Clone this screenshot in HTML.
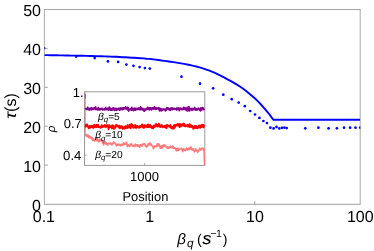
<!DOCTYPE html>
<html><head><meta charset="utf-8"><title>chart</title>
<style>html,body{margin:0;padding:0;background:#fff;width:374px;height:251px;overflow:hidden;font-family:"Liberation Sans",sans-serif}</style>
</head><body>
<svg width="374" height="251" viewBox="0 0 374 251" style="position:absolute;left:0;top:0;text-rendering:geometricPrecision;will-change:transform">
<rect x="0" y="0" width="374" height="251" fill="#fff"/>
<path d="M44,9.55 H360.6" stroke="#8a8a8a" stroke-width="0.8" fill="none"/>
<path d="M44,204.3 H360.6" stroke="#808080" stroke-width="0.75" fill="none"/>
<path d="M44.4,9.5 V204.3" stroke="#909090" stroke-width="0.75" fill="none"/>
<path d="M360.2,9.5 V204.3" stroke="#999" stroke-width="0.85" fill="none"/>
<path d="M44.4,165.1 h3.4 M44.4,126.2 h3.4 M44.4,87.3 h3.4 M44.4,48.4 h3.4 M149.6,204.2 v-3.0 M254.8,204.2 v-3.0" stroke="#8a8a8a" stroke-width="0.8" fill="none"/>
<path d="M44.5,55.1 L47.5,55.1 L50.5,55.2 L53.5,55.3 L56.5,55.3 L59.5,55.4 L62.5,55.4 L65.5,55.5 L68.5,55.5 L71.5,55.6 L74.5,55.6 L77.5,55.7 L80.5,55.8 L83.5,55.8 L86.5,55.9 L89.5,56.0 L92.5,56.0 L95.5,56.1 L98.5,56.2 L101.5,56.3 L104.5,56.4 L107.5,56.5 L110.5,56.6 L113.5,56.7 L116.5,56.8 L119.5,57.0 L122.5,57.2 L125.5,57.3 L128.5,57.5 L131.5,57.7 L134.5,57.8 L137.5,58.0 L140.5,58.2 L143.5,58.4 L146.5,58.7 L149.5,58.9 L152.5,59.3 L155.5,59.6 L158.5,60.0 L161.5,60.5 L164.5,60.9 L167.5,61.3 L170.5,61.7 L173.5,62.1 L176.5,62.6 L179.5,63.1 L182.5,63.6 L185.5,64.1 L188.5,64.7 L191.5,65.4 L194.5,66.1 L197.5,66.8 L200.5,67.6 L203.5,68.6 L206.5,69.6 L209.5,70.7 L212.5,71.9 L215.5,73.2 L218.5,74.7 L221.5,76.2 L224.5,77.7 L227.5,79.3 L230.5,80.9 L233.5,82.6 L236.5,84.4 L239.5,86.3 L242.5,88.3 L245.5,90.5 L248.5,92.9 L251.5,95.4 L254.5,98.0 L257.5,100.9 L260.5,104.0 L263.5,107.3 L266.5,110.8 L269.5,114.5 L272.5,118.6 L273.3,119.8 L360.0,119.8" stroke="#0000ff" stroke-width="1.9" fill="none" stroke-linejoin="round"/>
<clipPath id="cp"><rect x="44.9" y="9.5" width="315.4" height="194.5"/></clipPath><g clip-path="url(#cp)">
<circle cx="76.2" cy="56.6" r="1.35" fill="#0000ff"/>
<circle cx="94.7" cy="58.1" r="1.35" fill="#0000ff"/>
<circle cx="107.9" cy="61.4" r="1.35" fill="#0000ff"/>
<circle cx="118.1" cy="61.9" r="1.35" fill="#0000ff"/>
<circle cx="126.4" cy="64.6" r="1.35" fill="#0000ff"/>
<circle cx="133.5" cy="65.8" r="1.35" fill="#0000ff"/>
<circle cx="139.6" cy="67.1" r="1.35" fill="#0000ff"/>
<circle cx="144.9" cy="68.1" r="1.35" fill="#0000ff"/>
<circle cx="149.8" cy="68.6" r="1.35" fill="#0000ff"/>
<circle cx="181.5" cy="76.7" r="1.35" fill="#0000ff"/>
<circle cx="200.0" cy="83.7" r="1.35" fill="#0000ff"/>
<circle cx="213.1" cy="88.3" r="1.35" fill="#0000ff"/>
<circle cx="223.3" cy="94.7" r="1.35" fill="#0000ff"/>
<circle cx="231.7" cy="99.2" r="1.35" fill="#0000ff"/>
<circle cx="238.7" cy="102.6" r="1.35" fill="#0000ff"/>
<circle cx="244.8" cy="106.2" r="1.35" fill="#0000ff"/>
<circle cx="250.2" cy="111.0" r="1.35" fill="#0000ff"/>
<circle cx="255.0" cy="114.5" r="1.35" fill="#0000ff"/>
<circle cx="259.4" cy="117.9" r="1.35" fill="#0000ff"/>
<circle cx="263.4" cy="121.0" r="1.35" fill="#0000ff"/>
<circle cx="267.0" cy="123.1" r="1.35" fill="#0000ff"/>
<circle cx="270.4" cy="127.7" r="1.35" fill="#0000ff"/>
<circle cx="273.6" cy="128.4" r="1.35" fill="#0000ff"/>
<circle cx="276.5" cy="126.9" r="1.35" fill="#0000ff"/>
<circle cx="279.3" cy="128.4" r="1.35" fill="#0000ff"/>
<circle cx="281.9" cy="127.9" r="1.35" fill="#0000ff"/>
<circle cx="284.4" cy="127.6" r="1.35" fill="#0000ff"/>
<circle cx="286.7" cy="128.1" r="1.35" fill="#0000ff"/>
<circle cx="305.3" cy="128.3" r="1.35" fill="#0000ff"/>
<circle cx="318.4" cy="127.7" r="1.35" fill="#0000ff"/>
<circle cx="328.6" cy="128.3" r="1.35" fill="#0000ff"/>
<circle cx="336.9" cy="128.3" r="1.35" fill="#0000ff"/>
<circle cx="344.0" cy="127.7" r="1.35" fill="#0000ff"/>
<circle cx="350.1" cy="127.7" r="1.35" fill="#0000ff"/>
<circle cx="355.5" cy="127.7" r="1.35" fill="#0000ff"/>
<circle cx="360.3" cy="127.7" r="1.35" fill="#0000ff"/>
</g>
<rect x="44.0" y="46.9" width="1.3" height="2.3" rx="0.5" fill="#2222dd" opacity="0.85"/>
<rect x="84.5" y="91.8" width="120.3" height="73.6" fill="#fff" stroke="#999" stroke-width="1"/>
<path d="M144.6,165.4 v-2.2 M84.5,124.2 h2 M84.5,155.3 h2" stroke="#999" stroke-width="0.9" fill="none"/>
<path d="M85.3,92.3 L85.3,136" stroke="#ff8592" stroke-width="1.0" fill="none"/>
<path d="M85.3,94.3 L85.3,98.4" stroke="#8a40d0" stroke-width="1.0" fill="none"/>
<path d="M85.6,135.5 L85.9,134.6 L86.2,136.0 L86.4,134.5 L86.7,136.4 L87.0,135.9 L87.3,134.9 L87.6,135.4 L87.9,136.5 L88.1,135.3 L88.4,137.7 L88.7,136.8 L89.0,135.5 L89.3,136.4 L89.5,136.3 L89.8,136.9 L90.1,138.0 L90.4,137.4 L90.7,136.8 L90.9,136.9 L91.2,137.6 L91.5,138.9 L91.8,138.2 L92.1,137.7 L92.4,138.0 L92.6,140.4 L92.9,139.8 L93.2,139.5 L93.5,139.1 L93.8,140.3 L94.0,139.7 L94.3,141.0 L94.6,141.1 L94.9,140.9 L95.2,139.0 L95.4,138.4 L95.7,138.4 L96.0,137.9 L96.3,140.7 L96.6,140.5 L96.9,137.7 L97.1,138.2 L97.4,138.8 L97.7,140.5 L98.0,141.0 L98.3,141.4 L98.5,141.2 L98.8,141.7 L99.1,141.0 L99.4,139.3 L99.7,141.2 L100.0,139.7 L100.2,140.4 L100.5,139.4 L100.8,140.9 L101.1,141.0 L101.4,140.4 L101.6,140.8 L101.9,140.5 L102.2,140.2 L102.5,142.4 L102.8,143.7 L103.0,142.1 L103.3,143.7 L103.6,144.9 L103.9,143.6 L104.2,143.5 L104.5,142.8 L104.7,142.7 L105.0,143.0 L105.3,141.7 L105.6,144.1 L105.9,143.5 L106.1,143.5 L106.4,142.8 L106.7,144.0 L107.0,143.9 L107.3,145.0 L107.6,145.3 L107.8,143.9 L108.1,143.6 L108.4,143.7 L108.7,143.3 L109.0,143.4 L109.2,144.0 L109.5,143.6 L109.8,143.0 L110.1,143.5 L110.4,143.1 L110.6,143.5 L110.9,143.2 L111.2,144.5 L111.5,143.9 L111.8,143.6 L112.1,145.0 L112.3,143.4 L112.6,144.1 L112.9,142.9 L113.2,143.6 L113.5,141.9 L113.7,142.2 L114.0,143.3 L114.3,142.5 L114.6,142.9 L114.9,142.9 L115.2,143.1 L115.4,144.0 L115.7,144.2 L116.0,144.4 L116.3,146.1 L116.6,144.9 L116.8,144.6 L117.1,144.8 L117.4,144.2 L117.7,145.3 L118.0,144.0 L118.2,145.3 L118.5,144.3 L118.8,145.3 L119.1,145.3 L119.4,144.4 L119.7,144.3 L119.9,144.7 L120.2,145.0 L120.5,145.8 L120.8,145.0 L121.1,144.3 L121.3,145.6 L121.6,144.3 L121.9,144.2 L122.2,144.5 L122.5,145.4 L122.7,144.5 L123.0,144.7 L123.3,144.3 L123.6,142.5 L123.9,144.5 L124.2,143.6 L124.4,143.5 L124.7,144.6 L125.0,144.1 L125.3,144.4 L125.6,143.3 L125.8,144.5 L126.1,143.2 L126.4,142.0 L126.7,142.9 L127.0,145.1 L127.3,145.9 L127.5,146.7 L127.8,145.1 L128.1,145.1 L128.4,144.8 L128.7,144.9 L128.9,145.8 L129.2,146.3 L129.5,145.7 L129.8,146.6 L130.1,145.8 L130.3,145.4 L130.6,144.0 L130.9,143.8 L131.2,143.6 L131.5,144.2 L131.8,145.0 L132.0,145.6 L132.3,145.6 L132.6,146.3 L132.9,145.2 L133.2,145.7 L133.4,145.9 L133.7,145.7 L134.0,146.4 L134.3,145.7 L134.6,145.0 L134.8,146.6 L135.1,145.2 L135.4,144.1 L135.7,145.0 L136.0,145.6 L136.3,144.9 L136.5,145.2 L136.8,145.2 L137.1,144.7 L137.4,146.4 L137.7,145.5 L137.9,145.0 L138.2,145.0 L138.5,146.3 L138.8,145.5 L139.1,145.9 L139.4,146.4 L139.6,147.3 L139.9,146.9 L140.2,144.5 L140.5,145.0 L140.8,144.7 L141.0,145.1 L141.3,145.1 L141.6,146.2 L141.9,146.3 L142.2,145.6 L142.4,144.8 L142.7,144.1 L143.0,143.8 L143.3,144.3 L143.6,144.5 L143.9,144.0 L144.1,144.6 L144.4,144.4 L144.7,143.6 L145.0,144.3 L145.3,145.3 L145.5,146.2 L145.8,145.3 L146.1,145.8 L146.4,145.9 L146.7,147.1 L147.0,146.5 L147.2,146.2 L147.5,145.3 L147.8,146.2 L148.1,144.0 L148.4,144.0 L148.6,143.7 L148.9,144.7 L149.2,144.8 L149.5,143.1 L149.8,145.0 L150.0,144.8 L150.3,143.0 L150.6,144.6 L150.9,144.6 L151.2,145.2 L151.5,144.2 L151.7,145.5 L152.0,146.3 L152.3,146.2 L152.6,146.5 L152.9,146.3 L153.1,147.9 L153.4,148.8 L153.7,147.4 L154.0,147.9 L154.3,146.3 L154.6,147.3 L154.8,145.7 L155.1,145.7 L155.4,146.0 L155.7,146.0 L156.0,145.9 L156.2,146.2 L156.5,145.9 L156.8,146.8 L157.1,143.7 L157.4,143.7 L157.6,145.0 L157.9,144.9 L158.2,146.0 L158.5,144.8 L158.8,143.7 L159.1,145.0 L159.3,144.9 L159.6,145.1 L159.9,146.5 L160.2,148.2 L160.5,146.7 L160.7,146.6 L161.0,148.3 L161.3,145.7 L161.6,146.1 L161.9,146.3 L162.1,146.9 L162.4,148.1 L162.7,146.8 L163.0,145.1 L163.3,144.8 L163.6,145.8 L163.8,145.1 L164.1,146.5 L164.4,144.8 L164.7,145.5 L165.0,145.6 L165.2,146.1 L165.5,146.0 L165.8,145.7 L166.1,146.0 L166.4,147.8 L166.7,147.3 L166.9,147.7 L167.2,147.5 L167.5,146.7 L167.8,148.6 L168.1,148.5 L168.3,148.1 L168.6,147.6 L168.9,147.1 L169.2,147.7 L169.5,147.1 L169.7,148.1 L170.0,146.5 L170.3,146.5 L170.6,146.1 L170.9,147.0 L171.2,147.6 L171.4,146.8 L171.7,147.2 L172.0,146.7 L172.3,147.9 L172.6,147.0 L172.8,146.0 L173.1,146.5 L173.4,148.2 L173.7,147.7 L174.0,148.2 L174.2,147.9 L174.5,147.7 L174.8,147.8 L175.1,148.9 L175.4,148.7 L175.7,148.5 L175.9,149.1 L176.2,150.4 L176.5,150.9 L176.8,149.6 L177.1,149.5 L177.3,148.4 L177.6,148.7 L177.9,148.5 L178.2,150.6 L178.5,148.6 L178.8,149.6 L179.0,150.0 L179.3,149.8 L179.6,149.8 L179.9,149.0 L180.2,149.0 L180.4,148.9 L180.7,148.8 L181.0,148.5 L181.3,148.1 L181.6,149.1 L181.8,148.8 L182.1,149.9 L182.4,151.1 L182.7,151.8 L183.0,150.0 L183.3,149.3 L183.5,148.5 L183.8,149.7 L184.1,149.8 L184.4,150.3 L184.7,149.2 L184.9,149.2 L185.2,150.7 L185.5,149.8 L185.8,149.6 L186.1,149.4 L186.4,148.1 L186.6,149.8 L186.9,149.8 L187.2,149.2 L187.5,150.0 L187.8,149.5 L188.0,149.4 L188.3,148.0 L188.6,149.4 L188.9,148.2 L189.2,148.7 L189.4,149.7 L189.7,149.7 L190.0,149.5 L190.3,147.3 L190.6,149.0 L190.9,147.4 L191.1,147.0 L191.4,149.0 L191.7,148.8 L192.0,149.2 L192.3,150.2 L192.5,149.1 L192.8,149.3 L193.1,148.8 L193.4,148.8 L193.7,149.8 L193.9,151.1 L194.2,151.1 L194.5,151.9 L194.8,150.9 L195.1,150.4 L195.4,150.6 L195.6,148.7 L195.9,149.0 L196.2,149.7 L196.5,150.6 L196.8,150.1 L197.0,151.5 L197.3,150.2 L197.6,152.4 L197.9,150.8 L198.2,151.5 L198.5,150.7 L198.7,150.9 L199.0,150.2 L199.3,149.6 L199.6,148.3 L199.9,148.3 L200.1,149.6 L200.4,149.6 L200.7,150.2 L201.0,149.4 L201.3,149.1 L201.5,148.4 L201.8,148.3 L202.1,148.2 L202.4,148.2 L202.7,148.1 L203.0,148.7 L203.2,150.0 L203.5,148.5 L203.8,148.9 L204.1,152.0 L204.3,158.0 L204.5,165.0" stroke="#ff7a7a" stroke-width="1.5" fill="none" stroke-linejoin="round"/>
<path d="M85.4,125.8 L85.7,126.8 L86.0,125.3 L86.2,124.6 L86.5,125.8 L86.8,125.6 L87.1,124.5 L87.4,126.4 L87.7,126.7 L87.9,126.6 L88.2,126.7 L88.5,126.5 L88.8,128.3 L89.1,126.9 L89.4,126.0 L89.6,127.3 L89.9,127.1 L90.2,127.7 L90.5,126.1 L90.8,126.8 L91.1,126.2 L91.3,127.0 L91.6,125.7 L91.9,126.9 L92.2,127.0 L92.5,126.1 L92.8,127.6 L93.0,126.7 L93.3,127.9 L93.6,127.0 L93.9,126.5 L94.2,124.8 L94.5,126.9 L94.7,126.0 L95.0,127.2 L95.3,127.2 L95.6,126.9 L95.9,126.1 L96.1,126.5 L96.4,124.8 L96.7,127.0 L97.0,126.9 L97.3,126.9 L97.6,125.6 L97.8,126.7 L98.1,124.7 L98.4,127.0 L98.7,126.6 L99.0,127.2 L99.3,127.0 L99.5,127.0 L99.8,127.1 L100.1,126.9 L100.4,127.7 L100.7,126.5 L101.0,127.7 L101.2,126.5 L101.5,127.2 L101.8,125.1 L102.1,127.3 L102.4,126.8 L102.7,126.7 L102.9,126.1 L103.2,126.0 L103.5,126.7 L103.8,126.4 L104.1,125.9 L104.4,126.4 L104.6,126.1 L104.9,124.9 L105.2,126.3 L105.5,126.1 L105.8,127.0 L106.0,127.2 L106.3,126.6 L106.6,126.3 L106.9,125.2 L107.2,126.4 L107.5,126.2 L107.7,126.3 L108.0,125.2 L108.3,125.6 L108.6,129.2 L108.9,126.5 L109.2,126.4 L109.4,125.1 L109.7,127.3 L110.0,126.6 L110.3,126.8 L110.6,126.8 L110.9,126.4 L111.1,127.1 L111.4,126.3 L111.7,126.7 L112.0,128.5 L112.3,125.2 L112.6,128.1 L112.8,127.8 L113.1,126.4 L113.4,126.5 L113.7,125.8 L114.0,128.8 L114.3,126.5 L114.5,126.5 L114.8,127.4 L115.1,128.0 L115.4,126.9 L115.7,126.5 L115.9,126.3 L116.2,124.6 L116.5,125.4 L116.8,126.1 L117.1,126.4 L117.4,125.6 L117.6,125.5 L117.9,126.3 L118.2,125.9 L118.5,126.4 L118.8,127.1 L119.1,127.7 L119.3,126.3 L119.6,125.7 L119.9,128.2 L120.2,127.3 L120.5,127.8 L120.8,126.5 L121.0,127.5 L121.3,127.6 L121.6,126.9 L121.9,126.2 L122.2,126.8 L122.5,128.8 L122.7,127.7 L123.0,127.5 L123.3,128.0 L123.6,127.9 L123.9,127.6 L124.2,128.7 L124.4,127.1 L124.7,126.7 L125.0,127.6 L125.3,128.0 L125.6,126.3 L125.8,128.0 L126.1,126.9 L126.4,126.7 L126.7,127.8 L127.0,127.5 L127.3,128.0 L127.5,125.3 L127.8,126.1 L128.1,126.0 L128.4,125.6 L128.7,127.5 L129.0,126.5 L129.2,126.6 L129.5,127.2 L129.8,124.8 L130.1,125.9 L130.4,126.3 L130.7,128.4 L130.9,125.6 L131.2,124.2 L131.5,125.8 L131.8,124.1 L132.1,125.7 L132.4,124.9 L132.6,126.5 L132.9,127.0 L133.2,126.4 L133.5,127.9 L133.8,127.0 L134.1,126.8 L134.3,125.6 L134.6,125.2 L134.9,127.2 L135.2,127.4 L135.5,125.2 L135.7,127.8 L136.0,126.7 L136.3,127.9 L136.6,127.6 L136.9,126.5 L137.2,126.0 L137.4,126.4 L137.7,127.1 L138.0,126.3 L138.3,127.3 L138.6,126.9 L138.9,127.8 L139.1,126.9 L139.4,126.5 L139.7,126.1 L140.0,127.3 L140.3,127.0 L140.6,127.2 L140.8,125.9 L141.1,125.9 L141.4,125.9 L141.7,126.5 L142.0,124.4 L142.3,126.8 L142.5,126.3 L142.8,127.2 L143.1,127.2 L143.4,127.8 L143.7,126.5 L144.0,125.1 L144.2,127.0 L144.5,127.4 L144.8,125.3 L145.1,125.8 L145.4,126.4 L145.6,125.9 L145.9,126.1 L146.2,126.8 L146.5,126.0 L146.8,127.1 L147.1,126.9 L147.3,125.4 L147.6,124.6 L147.9,126.2 L148.2,127.2 L148.5,124.7 L148.8,126.7 L149.0,125.1 L149.3,126.9 L149.6,126.1 L149.9,127.1 L150.2,124.9 L150.5,126.7 L150.7,127.0 L151.0,126.1 L151.3,126.5 L151.6,126.3 L151.9,128.2 L152.2,127.6 L152.4,127.4 L152.7,126.5 L153.0,128.3 L153.3,127.6 L153.6,127.1 L153.9,127.2 L154.1,125.4 L154.4,125.4 L154.7,127.1 L155.0,126.5 L155.3,125.7 L155.5,125.1 L155.8,125.8 L156.1,124.0 L156.4,124.5 L156.7,125.1 L157.0,125.2 L157.2,126.6 L157.5,126.4 L157.8,124.9 L158.1,125.5 L158.4,126.0 L158.7,125.0 L158.9,123.7 L159.2,126.6 L159.5,124.9 L159.8,125.1 L160.1,125.7 L160.4,126.9 L160.6,125.9 L160.9,127.1 L161.2,125.6 L161.5,125.5 L161.8,125.0 L162.1,126.2 L162.3,126.5 L162.6,125.9 L162.9,127.4 L163.2,126.1 L163.5,126.6 L163.8,126.2 L164.0,126.3 L164.3,126.1 L164.6,127.0 L164.9,125.8 L165.2,127.6 L165.4,126.4 L165.7,127.4 L166.0,125.5 L166.3,126.2 L166.6,128.1 L166.9,126.8 L167.1,124.9 L167.4,126.0 L167.7,125.6 L168.0,125.3 L168.3,125.6 L168.6,126.3 L168.8,126.0 L169.1,126.3 L169.4,126.8 L169.7,126.9 L170.0,126.2 L170.3,125.0 L170.5,125.6 L170.8,127.2 L171.1,126.3 L171.4,128.4 L171.7,127.0 L172.0,127.8 L172.2,126.8 L172.5,127.5 L172.8,128.4 L173.1,127.2 L173.4,126.4 L173.7,128.7 L173.9,125.9 L174.2,125.0 L174.5,125.1 L174.8,127.6 L175.1,125.8 L175.3,126.0 L175.6,125.1 L175.9,125.9 L176.2,125.5 L176.5,125.5 L176.8,125.2 L177.0,124.4 L177.3,125.6 L177.6,125.4 L177.9,123.9 L178.2,125.6 L178.5,125.3 L178.7,124.4 L179.0,125.9 L179.3,123.9 L179.6,127.1 L179.9,125.0 L180.2,125.2 L180.4,124.3 L180.7,126.4 L181.0,125.7 L181.3,124.6 L181.6,125.8 L181.9,125.4 L182.1,124.7 L182.4,124.9 L182.7,125.4 L183.0,124.6 L183.3,123.6 L183.6,125.4 L183.8,125.8 L184.1,123.8 L184.4,125.8 L184.7,125.3 L185.0,126.4 L185.2,126.4 L185.5,126.3 L185.8,125.3 L186.1,126.2 L186.4,125.7 L186.7,125.3 L186.9,125.7 L187.2,125.3 L187.5,125.8 L187.8,126.4 L188.1,124.7 L188.4,125.6 L188.6,125.3 L188.9,126.0 L189.2,126.9 L189.5,126.8 L189.8,124.3 L190.1,126.5 L190.3,126.5 L190.6,125.6 L190.9,126.4 L191.2,127.1 L191.5,125.4 L191.8,126.6 L192.0,126.8 L192.3,126.0 L192.6,126.6 L192.9,127.0 L193.2,128.8 L193.5,128.6 L193.7,127.8 L194.0,126.9 L194.3,126.8 L194.6,128.1 L194.9,126.0 L195.1,127.0 L195.4,126.0 L195.7,126.6 L196.0,128.1 L196.3,126.1 L196.6,126.8 L196.8,126.5 L197.1,127.7 L197.4,128.2 L197.7,126.8 L198.0,127.2 L198.3,126.5 L198.5,127.6 L198.8,127.1 L199.1,125.5 L199.4,126.7 L199.7,126.0 L200.0,126.0 L200.2,127.8 L200.5,125.5 L200.8,127.5 L201.1,127.0 L201.4,126.5 L201.7,127.0 L201.9,126.9 L202.2,124.7 L202.5,125.3 L202.8,126.3 L203.1,126.5 L203.4,124.9 L203.6,127.4 L203.9,125.8 L204.2,126.6" stroke="#ff0000" stroke-width="1.9" fill="none" stroke-linejoin="round"/>
<path d="M85.4,109.3 L85.7,108.7 L86.0,108.6 L86.2,109.2 L86.5,109.2 L86.8,109.2 L87.1,109.5 L87.4,109.3 L87.7,107.5 L87.9,108.3 L88.2,108.7 L88.5,108.4 L88.8,109.2 L89.1,110.0 L89.4,109.7 L89.6,108.3 L89.9,108.7 L90.2,109.1 L90.5,108.2 L90.8,109.7 L91.1,108.9 L91.3,107.8 L91.6,109.8 L91.9,108.4 L92.2,108.1 L92.5,108.7 L92.8,109.2 L93.0,109.4 L93.3,109.2 L93.6,108.1 L93.9,108.6 L94.2,108.1 L94.5,108.5 L94.7,107.6 L95.0,109.0 L95.3,109.4 L95.6,107.0 L95.9,108.3 L96.1,109.4 L96.4,109.0 L96.7,109.2 L97.0,109.6 L97.3,109.5 L97.6,109.8 L97.8,109.4 L98.1,108.4 L98.4,107.7 L98.7,109.6 L99.0,109.9 L99.3,108.7 L99.5,109.4 L99.8,109.7 L100.1,108.6 L100.4,109.0 L100.7,109.5 L101.0,108.8 L101.2,108.8 L101.5,108.7 L101.8,108.3 L102.1,108.3 L102.4,109.5 L102.7,109.8 L102.9,109.3 L103.2,109.6 L103.5,109.3 L103.8,109.2 L104.1,109.6 L104.4,109.6 L104.6,109.0 L104.9,109.9 L105.2,109.4 L105.5,107.6 L105.8,109.3 L106.0,109.3 L106.3,109.5 L106.6,108.7 L106.9,109.6 L107.2,109.2 L107.5,109.1 L107.7,108.5 L108.0,108.1 L108.3,109.6 L108.6,110.1 L108.9,108.6 L109.2,109.2 L109.4,107.1 L109.7,108.1 L110.0,108.1 L110.3,110.0 L110.6,109.2 L110.9,109.3 L111.1,110.2 L111.4,109.0 L111.7,108.7 L112.0,109.4 L112.3,110.0 L112.6,109.9 L112.8,108.1 L113.1,108.5 L113.4,108.0 L113.7,109.7 L114.0,108.7 L114.3,108.5 L114.5,110.4 L114.8,110.2 L115.1,109.1 L115.4,109.9 L115.7,108.5 L115.9,109.3 L116.2,108.5 L116.5,110.3 L116.8,109.3 L117.1,110.0 L117.4,109.3 L117.6,109.2 L117.9,108.7 L118.2,109.4 L118.5,108.4 L118.8,109.4 L119.1,109.8 L119.3,109.6 L119.6,110.2 L119.9,109.6 L120.2,108.0 L120.5,109.3 L120.8,108.4 L121.0,108.5 L121.3,108.7 L121.6,108.8 L121.9,109.6 L122.2,108.0 L122.5,109.6 L122.7,108.2 L123.0,109.4 L123.3,109.4 L123.6,108.0 L123.9,108.2 L124.2,108.4 L124.4,108.2 L124.7,108.5 L125.0,108.8 L125.3,108.5 L125.6,107.0 L125.8,108.3 L126.1,107.7 L126.4,108.1 L126.7,109.1 L127.0,109.0 L127.3,109.4 L127.5,107.5 L127.8,110.0 L128.1,108.7 L128.4,108.0 L128.7,111.0 L129.0,109.6 L129.2,109.2 L129.5,110.0 L129.8,109.1 L130.1,109.7 L130.4,109.0 L130.7,108.7 L130.9,109.2 L131.2,108.4 L131.5,110.1 L131.8,107.5 L132.1,109.7 L132.4,109.8 L132.6,109.8 L132.9,109.8 L133.2,108.6 L133.5,110.5 L133.8,108.6 L134.1,109.2 L134.3,108.3 L134.6,110.0 L134.9,108.1 L135.2,109.9 L135.5,110.0 L135.7,109.4 L136.0,108.4 L136.3,109.3 L136.6,108.8 L136.9,109.2 L137.2,109.1 L137.4,109.5 L137.7,108.4 L138.0,108.9 L138.3,109.0 L138.6,109.0 L138.9,108.0 L139.1,109.7 L139.4,108.9 L139.7,108.4 L140.0,108.8 L140.3,109.2 L140.6,106.8 L140.8,109.6 L141.1,107.6 L141.4,108.9 L141.7,108.8 L142.0,109.4 L142.3,109.3 L142.5,109.8 L142.8,108.4 L143.1,109.6 L143.4,109.8 L143.7,109.8 L144.0,110.9 L144.2,109.1 L144.5,111.0 L144.8,109.7 L145.1,109.2 L145.4,109.2 L145.6,109.8 L145.9,109.1 L146.2,109.6 L146.5,109.2 L146.8,109.6 L147.1,108.5 L147.3,107.9 L147.6,107.5 L147.9,109.2 L148.2,108.9 L148.5,107.9 L148.8,109.5 L149.0,108.6 L149.3,107.9 L149.6,109.9 L149.9,108.9 L150.2,107.8 L150.5,108.1 L150.7,107.8 L151.0,109.0 L151.3,109.4 L151.6,109.9 L151.9,108.5 L152.2,108.0 L152.4,108.8 L152.7,107.8 L153.0,108.7 L153.3,108.5 L153.6,108.2 L153.9,109.1 L154.1,108.4 L154.4,107.0 L154.7,108.8 L155.0,108.8 L155.3,107.7 L155.5,108.5 L155.8,109.2 L156.1,108.2 L156.4,108.8 L156.7,109.1 L157.0,107.9 L157.2,108.3 L157.5,108.6 L157.8,108.7 L158.1,108.5 L158.4,108.9 L158.7,109.3 L158.9,107.6 L159.2,109.3 L159.5,110.8 L159.8,110.1 L160.1,109.9 L160.4,109.2 L160.6,108.5 L160.9,108.7 L161.2,110.8 L161.5,109.3 L161.8,109.4 L162.1,109.4 L162.3,109.7 L162.6,110.3 L162.9,109.3 L163.2,109.0 L163.5,108.9 L163.8,109.1 L164.0,109.7 L164.3,109.4 L164.6,109.8 L164.9,109.4 L165.2,110.1 L165.4,110.8 L165.7,109.7 L166.0,109.0 L166.3,110.1 L166.6,108.2 L166.9,107.7 L167.1,108.7 L167.4,108.8 L167.7,108.2 L168.0,107.9 L168.3,109.2 L168.6,108.8 L168.8,109.0 L169.1,109.9 L169.4,108.9 L169.7,108.4 L170.0,108.5 L170.3,109.2 L170.5,110.4 L170.8,108.9 L171.1,107.9 L171.4,109.2 L171.7,109.4 L172.0,109.3 L172.2,109.6 L172.5,108.2 L172.8,108.1 L173.1,109.2 L173.4,109.1 L173.7,109.0 L173.9,108.8 L174.2,108.7 L174.5,108.4 L174.8,109.3 L175.1,109.2 L175.3,108.6 L175.6,108.9 L175.9,109.4 L176.2,108.8 L176.5,109.2 L176.8,110.0 L177.0,107.8 L177.3,109.0 L177.6,109.4 L177.9,108.8 L178.2,108.7 L178.5,108.0 L178.7,109.1 L179.0,109.3 L179.3,110.6 L179.6,108.5 L179.9,109.4 L180.2,108.1 L180.4,109.1 L180.7,108.7 L181.0,109.1 L181.3,108.7 L181.6,109.5 L181.9,108.7 L182.1,108.5 L182.4,109.6 L182.7,108.9 L183.0,109.3 L183.3,109.0 L183.6,109.1 L183.8,107.4 L184.1,109.0 L184.4,109.4 L184.7,108.3 L185.0,107.7 L185.2,108.8 L185.5,108.8 L185.8,108.5 L186.1,110.1 L186.4,110.5 L186.7,108.8 L186.9,109.6 L187.2,107.3 L187.5,109.4 L187.8,110.8 L188.1,109.1 L188.4,109.3 L188.6,108.4 L188.9,106.7 L189.2,109.0 L189.5,110.8 L189.8,109.1 L190.1,108.6 L190.3,109.5 L190.6,109.1 L190.9,109.6 L191.2,108.9 L191.5,109.0 L191.8,110.0 L192.0,108.3 L192.3,109.4 L192.6,110.0 L192.9,109.6 L193.2,108.9 L193.5,109.5 L193.7,108.6 L194.0,108.9 L194.3,108.7 L194.6,107.5 L194.9,109.4 L195.1,108.8 L195.4,110.2 L195.7,109.5 L196.0,109.2 L196.3,108.8 L196.6,109.2 L196.8,110.0 L197.1,109.0 L197.4,109.7 L197.7,109.5 L198.0,109.0 L198.3,108.1 L198.5,108.2 L198.8,108.7 L199.1,109.7 L199.4,108.8 L199.7,110.2 L200.0,109.3 L200.2,109.4 L200.5,110.8 L200.8,107.9 L201.1,109.5 L201.4,109.8 L201.7,108.5 L201.9,109.9 L202.2,108.3 L202.5,107.6 L202.8,108.7 L203.1,108.5 L203.4,108.6 L203.6,108.4 L203.9,109.4 L204.2,110.3" stroke="#85008f" stroke-width="1.8" fill="none" stroke-linejoin="round"/>
<text x="41.0" y="211.2" font-size="16" text-anchor="end" font-family="Liberation Sans, sans-serif" fill="#000" >0</text>
<text x="41.0" y="171.6" font-size="16" text-anchor="end" font-family="Liberation Sans, sans-serif" fill="#000" >10</text>
<text x="41.0" y="132.7" font-size="16" text-anchor="end" font-family="Liberation Sans, sans-serif" fill="#000" >20</text>
<text x="41.0" y="93.8" font-size="16" text-anchor="end" font-family="Liberation Sans, sans-serif" fill="#000" >30</text>
<text x="41.0" y="54.9" font-size="16" text-anchor="end" font-family="Liberation Sans, sans-serif" fill="#000" >40</text>
<text x="41.0" y="16.0" font-size="16" text-anchor="end" font-family="Liberation Sans, sans-serif" fill="#000" >50</text>
<text x="43.9" y="221.9" font-size="16" text-anchor="middle" font-family="Liberation Sans, sans-serif" fill="#000" >0.1</text>
<text x="149.8" y="221.9" font-size="16" text-anchor="middle" font-family="Liberation Sans, sans-serif" fill="#000" >1</text>
<text x="255.0" y="221.9" font-size="16" text-anchor="middle" font-family="Liberation Sans, sans-serif" fill="#000" >10</text>
<text x="360.3" y="221.9" font-size="16" text-anchor="middle" font-family="Liberation Sans, sans-serif" fill="#000" >100</text>
<text x="83.6" y="96.6" font-size="13" text-anchor="end" font-family="Liberation Sans, sans-serif" fill="#000" >1.</text>
<text x="81.8" y="128.3" font-size="13" text-anchor="end" font-family="Liberation Sans, sans-serif" fill="#000" >0.7</text>
<text x="81.4" y="160.3" font-size="13.2" text-anchor="end" font-family="Liberation Sans, sans-serif" fill="#000" >0.4</text>
<text x="144.4" y="180.9" font-size="13" text-anchor="middle" font-family="Liberation Sans, sans-serif" fill="#000" >1000</text>
<text x="145.4" y="200.5" font-size="12.9" text-anchor="middle" font-family="Liberation Sans, sans-serif" fill="#000" >Position</text>
<text x="98.0" y="120.0" font-size="10.2" font-family="Liberation Sans, sans-serif" fill="#000"><tspan font-style="italic">β</tspan><tspan font-style="italic" font-size="7.8" dy="2.4">q</tspan><tspan dy="-2.4">=5</tspan></text>
<text x="95.2" y="138.2" font-size="10.2" font-family="Liberation Sans, sans-serif" fill="#000"><tspan font-style="italic">β</tspan><tspan font-style="italic" font-size="7.8" dy="2.4">q</tspan><tspan dy="-2.4">=10</tspan></text>
<text x="95.2" y="157.8" font-size="10.2" font-family="Liberation Sans, sans-serif" fill="#000"><tspan font-style="italic">β</tspan><tspan font-style="italic" font-size="7.8" dy="2.4">q</tspan><tspan dy="-2.4">=20</tspan></text>
<text x="0" y="0" font-size="11.5" font-style="italic" font-family="Liberation Sans, sans-serif" transform="translate(54.9,132.3) rotate(-90)">ρ</text>
<text x="0" y="0" font-size="16" font-style="italic" font-family="Liberation Sans, sans-serif" transform="translate(15.6,119.0) rotate(-90) scale(1.18,1)">τ</text>
<text x="0" y="0" font-size="16" font-family="Liberation Sans, sans-serif" transform="translate(15.6,111.9) rotate(-90)">(s)</text>
<text x="177.2" y="244.2" font-size="15.2" font-family="Liberation Sans, sans-serif" font-style="italic" fill="#000">β</text>
<text x="186.9" y="246.9" font-size="11.8" font-family="Liberation Sans, sans-serif" font-style="italic" fill="#000">q</text>
<text x="197.0" y="243.9" font-size="14.2" font-family="Liberation Sans, sans-serif"  fill="#000">(</text>
<text x="0" y="0" font-size="16.8" font-style="italic" font-family="Liberation Sans, sans-serif" stroke="#000" stroke-width="0.15" transform="translate(202.5,244.0) scale(1.05,1)">s</text>
<text x="210.4" y="237.0" font-size="10.5" font-family="Liberation Sans, sans-serif"  fill="#000">−</text>
<text x="216.1" y="237.0" font-size="10.5" font-family="Liberation Sans, sans-serif"  fill="#000">1</text>
<text x="222.7" y="243.9" font-size="14.2" font-family="Liberation Sans, sans-serif"  fill="#000">)</text>
</svg>
</body></html>
